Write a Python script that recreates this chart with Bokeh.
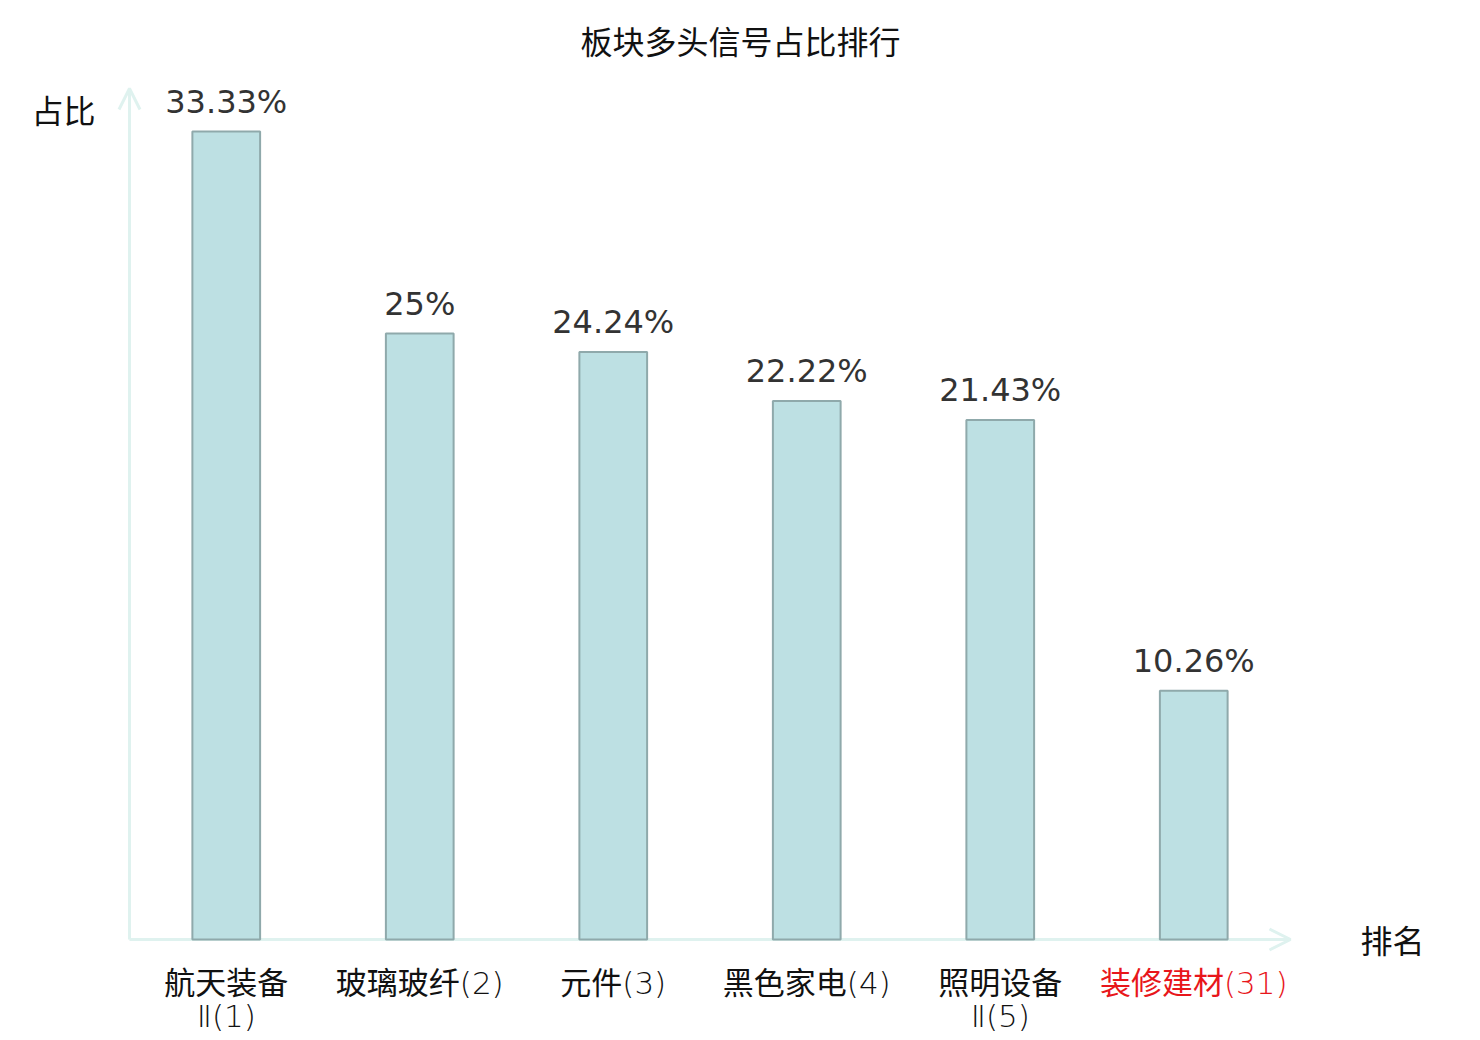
from bokeh.plotting import figure
from bokeh.models import ColumnDataSource, LabelSet, Label, Arrow, OpenHead, Range1d
from bokeh.core.properties import value
from bokeh.embed import file_html
from bokeh.resources import INLINE

title_text = "板块多头信号占比排行"
categories = ["航天装备\nⅡ(1)", "玻璃玻纤(2)", "元件(3)", "黑色家电(4)", "照明设备\nⅡ(5)", "装修建材(31)"]
values = [33.33, 25.0, 24.24, 22.22, 21.43, 10.26]
value_labels = ["33.33%", "25%", "24.24%", "22.22%", "21.43%", "10.26%"]
label_colors = ["#111111", "#111111", "#111111", "#111111", "#111111", "#e8161b"]
y_title = "占比"
x_title = "排名"

idx = list(range(len(categories)))
line1 = [c.split("\n")[0] for c in categories]
line2 = [c.split("\n")[1] if "\n" in c else "" for c in categories]
src = ColumnDataSource(dict(x=idx, top=values, l1=line1, l2=line2, vl=value_labels,
                            col=label_colors, zero=[0] * len(idx)))

AXIS_COL = "#dff2ef"
CJK = "Noto Sans CJK SC"
CAT_FONT = "DejaVu Sans Light, DejaVu Sans ExtraLight, Noto Sans CJK SC"

W, H = 1464, 1040
PX_X = 193.5   # pixels per category
PX_Y = 24.24   # pixels per percent
X0_PX, Y0_PX = 129, 939  # where x=-0.5 and y=0 fall on the canvas
x_start = -0.5 - X0_PX / PX_X
x_end = x_start + W / PX_X
y_end = Y0_PX / PX_Y
y_start = y_end - H / PX_Y

p = figure(width=W, height=H, output_backend="svg", toolbar_location=None,
           x_range=Range1d(x_start, x_end), y_range=Range1d(y_start, y_end),
           min_border=0, min_border_left=0, min_border_right=0,
           min_border_top=0, min_border_bottom=0)
p.xaxis.visible = False
p.yaxis.visible = False
p.grid.visible = False
p.outline_line_color = None
p.background_fill_color = "white"
p.border_fill_color = "white"

y_axis_top = (Y0_PX - 88) / PX_Y
x_axis_end = 5.5

# axes arrows
p.add_layout(Arrow(end=OpenHead(size=21, line_color=AXIS_COL, line_width=3),
                   x_start=-0.5, y_start=0, x_end=x_axis_end, y_end=0,
                   line_color=AXIS_COL, line_width=3, level="underlay"))
p.add_layout(Arrow(end=OpenHead(size=21, line_color=AXIS_COL, line_width=3),
                   x_start=-0.5, y_start=0, x_end=-0.5, y_end=y_axis_top,
                   line_color=AXIS_COL, line_width=3, level="underlay"))

p.vbar(x="x", top="top", width=0.35, bottom=0, source=src,
       fill_color="#bde0e3", line_color="#8fa9ab", line_width=2)

p.add_layout(LabelSet(x="x", y="top", text="vl", source=src, text_align="center",
                      text_baseline="bottom", y_offset=11, text_font=value("DejaVu Sans"),
                      text_font_size="32px", text_color="#333333"))

p.add_layout(LabelSet(x="x", y="zero", text="l1", source=src, text_align="center",
                      text_baseline="top", y_offset=-25, text_font=value(CAT_FONT),
                      text_font_size="31px", text_color="col"))
p.add_layout(LabelSet(x="x", y="zero", text="l2", source=src, text_align="center",
                      text_baseline="top", y_offset=-58, text_font=value(CAT_FONT),
                      text_font_size="31px", text_color="col"))

p.add_layout(Label(x=-0.5 + (63 - X0_PX) / PX_X, y=(Y0_PX - 108) / PX_Y, text=y_title,
                   text_align="center", text_baseline="middle",
                   text_font=CJK, text_font_size="32px", text_color="#111111"))
p.add_layout(Label(x=-0.5 + (1392 - X0_PX) / PX_X, y=(Y0_PX - 938) / PX_Y, text=x_title,
                   text_align="center", text_baseline="middle",
                   text_font=CJK, text_font_size="32px", text_color="#111111"))
p.add_layout(Label(x=-0.5 + (740 - X0_PX) / PX_X, y=(Y0_PX - 39) / PX_Y, text=title_text,
                   text_align="center", text_baseline="middle",
                   text_font=CJK, text_font_size="32px", text_color="#111111"))

open("out.html", "w").write(file_html(p, INLINE))
